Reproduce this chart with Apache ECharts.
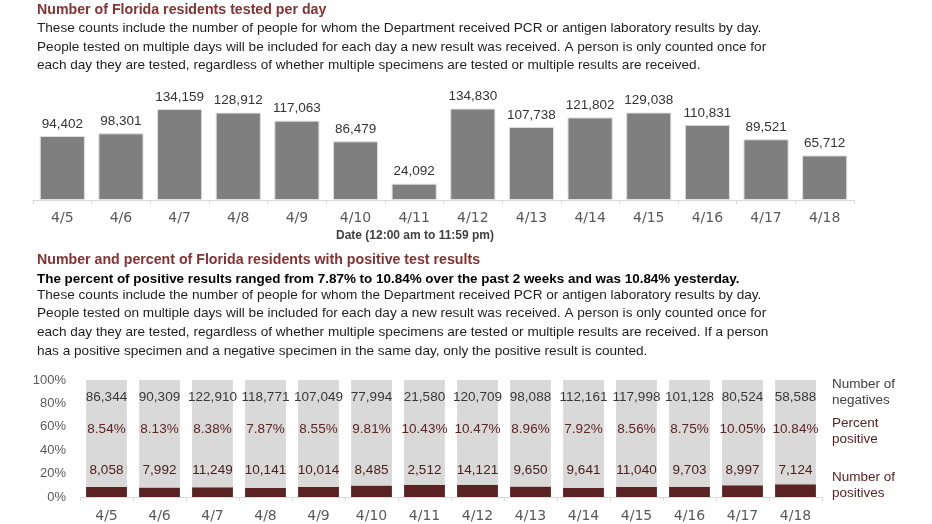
<!DOCTYPE html>
<html>
<head>
<meta charset="utf-8">
<script src="https://cdn.jsdelivr.net/npm/echarts@6/dist/echarts.min.js"></script>
<style>
html,body{margin:0;padding:0;background:#fff;}
#chart{width:932px;height:524px;}
</style>
</head>
<body>
<div id="chart"></div>
<script>
var dates = ['4/5','4/6','4/7','4/8','4/9','4/10','4/11','4/12','4/13','4/14','4/15','4/16','4/17','4/18'];
var tested = [94402, 98301, 134159, 128912, 117063, 86479, 24092, 134830, 107738, 121802, 129038, 110831, 89521, 65712];
var negatives = [86344, 90309, 122910, 118771, 107049, 77994, 21580, 120709, 98088, 112161, 117998, 101128, 80524, 58588];
var positives = [8058, 7992, 11249, 10141, 10014, 8485, 2512, 14121, 9650, 9641, 11040, 9703, 8997, 7124];
var percentPositive = [8.54, 8.13, 8.38, 7.87, 8.55, 9.81, 10.43, 10.47, 8.96, 7.92, 8.56, 8.75, 10.05, 10.84];

var title1 = 'Number of Florida residents tested per day';
var body1 = [
  'These counts include the number of people for whom the Department received PCR or antigen laboratory results by day.',
  'People tested on multiple days will be included for each day a new result was received. A person is only counted once for',
  'each day they are tested, regardless of whether multiple specimens are tested or multiple results are received.'
];
var xName1 = 'Date (12:00 am to 11:59 pm)';
var title2 = 'Number and percent of Florida residents with positive test results';
var bold2 = 'The percent of positive results ranged from 7.87% to 10.84% over the past 2 weeks and was 10.84% yesterday.';
var body2 = [
  'These counts include the number of people for whom the Department received PCR or antigen laboratory results by day.',
  'People tested on multiple days will be included for each day a new result was received. A person is only counted once for',
  'each day they are tested, regardless of whether multiple specimens are tested or multiple results are received. If a person',
  'has a positive specimen and a negative specimen in the same day, only the positive result is counted.'
];
var legendNeg = ['Number of', 'negatives'];
var legendPct = ['Percent', 'positive'];
var legendPos = ['Number of', 'positives'];

var FONT = '"Liberation Sans", Arial, sans-serif';
var RED = '#843232';
var DARK = '#5a2222';

function fmt(n){ return n.toLocaleString('en-US'); }

var graphics = [];
function txt(x, y, s, size, weight, color){
  graphics.push({
    type: 'text', x: x, y: y, silent: true,
    style: { text: s, x: 0, y: 0, fill: color, font: weight + ' ' + size + 'px ' + FONT, verticalAlign: 'middle', align: 'left' }
  });
}
txt(37, 10, title1, 14.2, 'bold', RED);
body1.forEach(function(l, i){ txt(37, 28.5 + i * 18.4, l, 13.6, 'normal', '#1e1e1e'); });
txt(37, 260, title2, 14.2, 'bold', RED);
txt(37, 279.5, bold2, 13.45, 'bold', '#000');
body2.forEach(function(l, i){ txt(37, 295 + i * 18.6, l, 13.6, 'normal', '#1e1e1e'); });
graphics.push({
  type: 'text', x: 415, y: 236, silent: true,
  style: { text: xName1, fill: '#404040', font: 'bold 12px "Liberation Sans Narrow", ' + FONT, align: 'center', verticalAlign: 'middle' }
});
function legend(y, lines, color){
  lines.forEach(function(l, i){ txt(832, y + i * 16, l, 13.5, 'normal', color); });
}
legend(384, legendNeg, '#404040');
legend(423, legendPct, DARK);
legend(477, legendPos, DARK);

var chart = echarts.init(document.getElementById('chart'));
chart.setOption({
  animation: false,
  textStyle: { fontFamily: FONT },
  graphic: graphics,
  grid: [
    { left: 33, right: 78, top: 98.3, bottom: 324 },
    { left: 80, right: 110, top: 380, bottom: 27 }
  ],
  xAxis: [
    {
      gridIndex: 0, type: 'category', data: dates,
      axisLine: { lineStyle: { color: '#d9d9d9' } },
      axisTick: { show: true, length: 4, lineStyle: { color: '#d9d9d9' } },
      axisLabel: { color: '#595959', fontSize: 14, margin: 11, fontFamily: '"DejaVu Sans", sans-serif' }
    },
    {
      gridIndex: 1, type: 'category', data: dates,
      axisLine: { lineStyle: { color: '#d9d9d9' } },
      axisTick: { show: true, length: 4, lineStyle: { color: '#d9d9d9' } },
      axisLabel: { color: '#595959', fontSize: 14, margin: 12, fontFamily: '"DejaVu Sans", sans-serif' }
    }
  ],
  yAxis: [
    { gridIndex: 0, type: 'value', min: 0, max: 150000, show: false, splitLine: { show: false } },
    {
      gridIndex: 1, type: 'value', min: 0, max: 100, interval: 20,
      axisLine: { show: false }, axisTick: { show: false }, splitLine: { show: false },
      axisLabel: { formatter: '{value}%', color: '#595959', fontSize: 13, margin: 14 }
    }
  ],
  series: [
    {
      type: 'bar', xAxisIndex: 0, yAxisIndex: 0, data: tested,
      barCategoryGap: '23%',
      itemStyle: { color: '#7f7f7f', borderColor: '#e0e0e0', borderWidth: 1 },
      label: { show: true, position: 'top', distance: 5, color: '#333333', fontSize: 13.5,
        formatter: function(p){ return fmt(p.value); } }
    },
    {
      type: 'bar', xAxisIndex: 1, yAxisIndex: 1, stack: 'pct', data: percentPositive,
      barCategoryGap: '23%',
      itemStyle: { color: DARK }
    },
    {
      type: 'bar', xAxisIndex: 1, yAxisIndex: 1, stack: 'pct',
      data: percentPositive.map(function(v){ return 100 - v; }),
      barCategoryGap: '23%',
      itemStyle: { color: '#d9d9d9' },
      label: {
        show: true, position: 'insideTop', distance: 1,
        formatter: function(p){
          var i = p.dataIndex;
          return '{n|' + fmt(negatives[i]) + '}\n{p|' + percentPositive[i].toFixed(2) + '%}\n{q|' + fmt(positives[i]) + '}';
        },
        rich: {
          n: { color: '#383838', fontSize: 13.5, lineHeight: 32, align: 'center' },
          p: { color: '#5e2424', fontSize: 13.5, lineHeight: 32, align: 'center' },
          q: { color: '#4a2020', fontSize: 13.5, lineHeight: 50, align: 'center' }
        }
      }
    }
  ]
});
</script>
</body>
</html>
